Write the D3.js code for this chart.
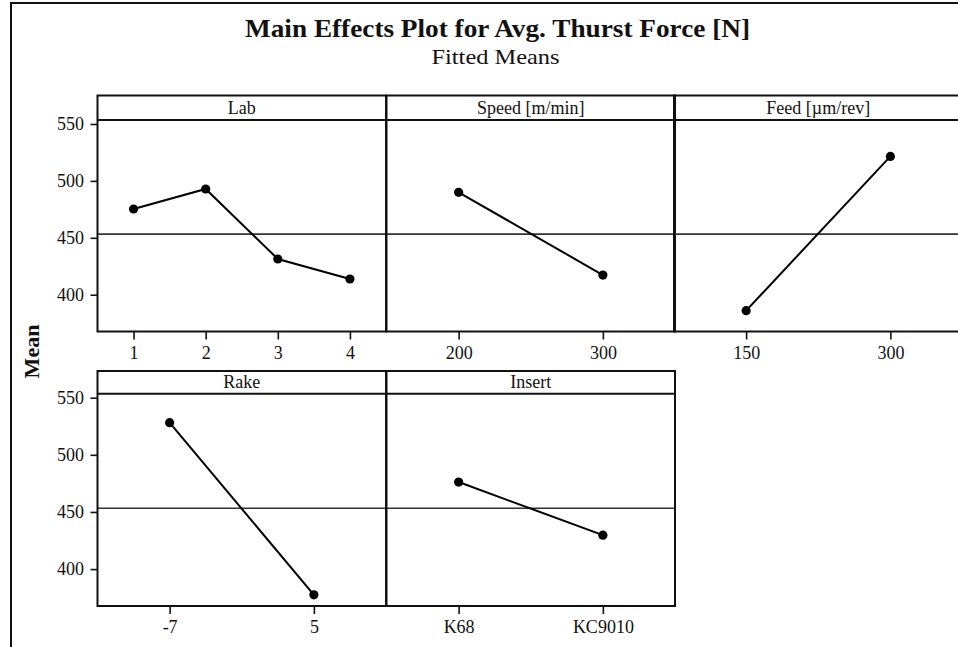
<!DOCTYPE html>
<html>
<head>
<meta charset="utf-8">
<script src="https://cdn.jsdelivr.net/npm/d3@7"></script>
<style>
  html, body { margin: 0; padding: 0; background: #fff; }
  svg { display: block; }
  text { font-family: "Liberation Serif", "Times New Roman", serif; fill: #111; }
</style>
</head>
<body>
<svg id="chart" width="958" height="647"></svg>
<script>
// ---- data: fitted means per factor level ----
const factorNames = ["Lab", "Speed [m/min]", "Feed [\u00b5m/rev]", "Rake", "Insert"];
const labLevels = ["1", "2", "3", "4"];
const labMeans = [475.3, 492.9, 431.4, 413.8];
const speedLevels = ["200", "300"];
const speedMeans = [490.0, 417.3];
const feedLevels = ["150", "300"];
const feedMeans = [386.0, 521.5];
const rakeLevels = ["-7", "5"];
const rakeMeans = [528.1, 377.5];
const insertLevels = ["K68", "KC9010"];
const insertMeans = [476.2, 429.7];
const yTicks = [400, 450, 500, 550];
const grandMean = 453.2;
const yDomain = [367.7, 553.5];

const titleText = "Main Effects Plot for Avg. Thurst Force [N]";
const subtitleText = "Fitted Means";
const yLabel = "Mean";

const panels = [
  { name: factorNames[0], levels: labLevels, means: labMeans, row: 0, col: 0 },
  { name: factorNames[1], levels: speedLevels, means: speedMeans, row: 0, col: 1 },
  { name: factorNames[2], levels: feedLevels, means: feedMeans, row: 0, col: 2 },
  { name: factorNames[3], levels: rakeLevels, means: rakeMeans, row: 1, col: 0 },
  { name: factorNames[4], levels: insertLevels, means: insertMeans, row: 1, col: 1 }
];

// ---- layout ----
const colLeft = [97.5, 386.5, 674];
const colWidth = 288.5;
const rows = [
  { top: 95.5, headerBottom: 120, bottom: 331.5 },
  { top: 371, headerBottom: 393.7, bottom: 606 }
];

const svg = d3.select("#chart");

// outer frame (left and top edges)
svg.append("path")
  .attr("d", "M11,660 L11,3 L970,3")
  .attr("fill", "none")
  .attr("stroke", "#111")
  .attr("stroke-width", 2);

// titles
svg.append("text")
  .attr("x", 497.5).attr("y", 36.5)
  .attr("text-anchor", "middle")
  .attr("font-size", 26).attr("font-weight", "bold")
  .attr("textLength", 505).attr("lengthAdjust", "spacingAndGlyphs")
  .text(titleText);

svg.append("text")
  .attr("x", 495.5).attr("y", 64)
  .attr("text-anchor", "middle")
  .attr("font-size", 22)
  .attr("textLength", 128).attr("lengthAdjust", "spacingAndGlyphs")
  .text(subtitleText);

// shared y-axis title
svg.append("text")
  .attr("transform", "translate(39,351.5) rotate(-90)")
  .attr("text-anchor", "middle")
  .attr("font-size", 22).attr("font-weight", "bold")
  .text(yLabel);

panels.forEach(p => {
  const r = rows[p.row];
  const x0 = colLeft[p.col], x1 = x0 + colWidth;

  const x = d3.scalePoint().domain(p.levels).range([x0, x1]).padding(0.5);
  const y = d3.scaleLinear().domain(yDomain).range([r.bottom, r.headerBottom]);

  const g = svg.append("g");

  // reference line at the overall mean
  g.append("line")
    .attr("x1", x0).attr("x2", x1)
    .attr("y1", y(grandMean)).attr("y2", y(grandMean))
    .attr("stroke", "#333").attr("stroke-width", 1.6);

  // x axis ticks and labels
  const xAxis = d3.axisBottom(x).tickSize(8).tickPadding(6.5);
  const xg = g.append("g").attr("transform", `translate(0,${r.bottom})`).call(xAxis);
  xg.select(".domain").remove();
  xg.selectAll(".tick line").attr("stroke", "#111").attr("stroke-width", 1.6);
  xg.selectAll(".tick text")
    .attr("font-size", 18)
    .attr("font-family", "Liberation Serif, Times New Roman, serif")
    .attr("fill", "#111");

  // y axis only in the first column
  if (p.col === 0) {
    const yAxis = d3.axisLeft(y).tickValues(yTicks).tickSize(7).tickPadding(6.5);
    const yg = g.append("g").attr("transform", `translate(${x0},0)`).call(yAxis);
    yg.select(".domain").remove();
    yg.selectAll(".tick line").attr("stroke", "#111").attr("stroke-width", 1.6);
    yg.selectAll(".tick text")
      .attr("font-size", 18)
      .attr("font-family", "Liberation Serif, Times New Roman, serif")
      .attr("fill", "#111");
  }

  // mean-effect line and points
  const pts = p.levels.map((lv, i) => [x(lv), y(p.means[i])]);
  g.append("path")
    .attr("d", d3.line()(pts))
    .attr("fill", "none")
    .attr("stroke", "#000")
    .attr("stroke-width", 2);
  g.selectAll("circle.pt")
    .data(pts)
    .join("circle")
    .attr("class", "pt")
    .attr("cx", d => d[0]).attr("cy", d => d[1])
    .attr("r", 4.6)
    .attr("fill", "#000");

  // panel border and header strip
  g.append("rect")
    .attr("x", x0).attr("y", r.top)
    .attr("width", colWidth).attr("height", r.bottom - r.top)
    .attr("fill", "none").attr("stroke", "#111").attr("stroke-width", 2);
  g.append("line")
    .attr("x1", x0).attr("x2", x1)
    .attr("y1", r.headerBottom).attr("y2", r.headerBottom)
    .attr("stroke", "#111").attr("stroke-width", 2);
  g.append("text")
    .attr("x", (x0 + x1) / 2).attr("y", r.headerBottom - 6)
    .attr("text-anchor", "middle")
    .attr("font-size", 18)
    .text(p.name);
});
</script>
</body>
</html>
